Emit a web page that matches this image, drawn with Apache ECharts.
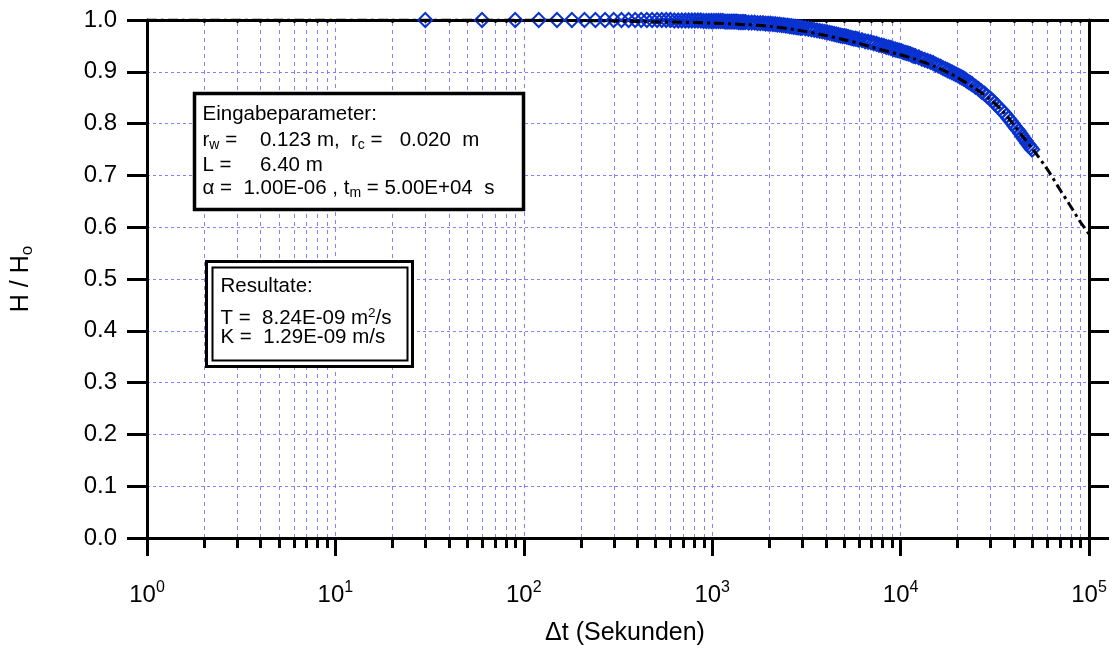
<!DOCTYPE html>
<html><head><meta charset="utf-8">
<script src="https://cdn.jsdelivr.net/npm/echarts@6/dist/echarts.min.js"></script>
<style>html,body{margin:0;padding:0;background:#fff}#c{width:1115px;height:652px}</style>
</head><body><div id="c"></div>
<script>
// ---------- data ----------
const xTickExponents = ['0', '1', '2', '3', '4', '5'];
const yTickLabels = ['0.0', '0.1', '0.2', '0.3', '0.4', '0.5', '0.6', '0.7', '0.8', '0.9', '1.0'];
const minorGridT = [2, 3, 4, 5, 6, 7, 8, 9,
  20, 30, 40, 50, 60, 70, 80, 90,
  200, 300, 400, 500, 600, 700, 800, 900,
  2000, 3000, 4000, 5000, 6000, 7000, 8000, 9000,
  20000, 30000, 40000, 50000, 60000, 70000, 80000, 90000];

// measured H/H0 (diamonds)
const measT = [30, 60, 90, 120, 150, 180, 210, 240, 270, 300, 330, 360, 390, 420, 450, 480, 510, 540, 570, 600,
  630, 660, 690, 720, 750, 780, 810, 840, 870, 900, 930, 960, 990,
  1020, 1050, 1080, 1110, 1140, 1170, 1200, 1230, 1260, 1290, 1320, 1350, 1380, 1410, 1440, 1470, 1500,
  1560, 1620, 1680, 1740, 1800, 1860, 1920, 1980, 2040, 2100, 2160, 2220, 2280, 2340, 2400, 2460, 2520, 2580, 2640, 2700, 2760, 2820, 2880, 2940, 3000,
  3120, 3240, 3360, 3480, 3600, 3720, 3840, 3960, 4080, 4200, 4320, 4440, 4560, 4680, 4800, 4920, 5040, 5160, 5280, 5400, 5520, 5640, 5760, 5880, 6000,
  6240, 6480, 6720, 6960, 7200, 7440, 7680, 7920, 8160, 8400, 8640, 8880, 9120, 9360, 9600, 9840, 10080, 10320, 10560, 10800, 11040, 11280, 11520, 11760, 12000,
  12480, 12960, 13440, 13920, 14400, 14880, 15360, 15840, 16320, 16800, 17280, 17760, 18240, 18720, 19200, 19680, 20160, 20640, 21120, 21600, 22080, 22560, 23040, 23520, 24000,
  24960, 25920, 26880, 27840, 28800, 29760, 30720, 31680, 32640, 33600, 34560, 35520, 36480, 37440, 38400, 39360, 40320, 41280, 42240, 43200, 44160, 45120, 46080, 47040, 48000, 48960, 49920];
const measH = [1.000, 1.000, 1.000, 1.000, 1.000, 1.000, 1.000, 1.000, 1.000, 1.000, 1.000, 1.000, 1.000, 1.000, 1.000, 1.000, 1.000, 1.000, 1.000, 1.000,
  0.999, 0.999, 0.999, 0.999, 0.999, 0.999, 0.999, 0.999, 0.999, 0.998, 0.998, 0.998, 0.998,
  0.998, 0.998, 0.998, 0.998, 0.998, 0.997, 0.997, 0.997, 0.997, 0.997, 0.997, 0.997, 0.996, 0.996, 0.996, 0.996, 0.996,
  0.995, 0.995, 0.995, 0.994, 0.994, 0.994, 0.993, 0.993, 0.993, 0.992, 0.992, 0.991, 0.991, 0.990, 0.990, 0.989, 0.989, 0.988, 0.988, 0.987, 0.987, 0.986, 0.986, 0.985, 0.985,
  0.984, 0.983, 0.982, 0.981, 0.980, 0.979, 0.978, 0.977, 0.976, 0.975, 0.974, 0.973, 0.972, 0.971, 0.970, 0.969, 0.969, 0.968, 0.967, 0.966, 0.965, 0.964, 0.964, 0.963, 0.962,
  0.961, 0.959, 0.958, 0.957, 0.955, 0.954, 0.952, 0.951, 0.950, 0.948, 0.947, 0.946, 0.944, 0.943, 0.942, 0.941, 0.940, 0.938, 0.937, 0.936, 0.935, 0.934, 0.932, 0.931, 0.930,
  0.928, 0.925, 0.923, 0.921, 0.919, 0.917, 0.914, 0.912, 0.910, 0.907, 0.905, 0.903, 0.901, 0.899, 0.897, 0.895, 0.893, 0.891, 0.889, 0.887, 0.885, 0.882, 0.880, 0.878, 0.876,
  0.871, 0.867, 0.862, 0.858, 0.853, 0.849, 0.844, 0.839, 0.834, 0.829, 0.825, 0.820, 0.815, 0.810, 0.805, 0.800, 0.795, 0.790, 0.786, 0.781, 0.776, 0.771, 0.767, 0.762, 0.758, 0.754, 0.750];

// fitted curve
const fitT = [1, 10, 100, 300, 600, 1000, 1500, 2000, 3000, 4000, 5000, 6000, 7000, 8000, 10000, 12000, 15000, 18000, 20000, 25000, 30000, 35000, 40000, 45000, 50000, 60000, 70000, 80000, 90000, 100000];
const fitH = [1.000, 1.000, 1.000, 0.998, 0.996, 0.994, 0.991, 0.988, 0.979, 0.970, 0.962, 0.955, 0.948, 0.942, 0.933, 0.924, 0.911, 0.898, 0.889, 0.867, 0.846, 0.823, 0.797, 0.773, 0.752, 0.712, 0.673, 0.640, 0.610, 0.587];

// ---------- chart ----------
const FF = '"Liberation Sans", Arial, sans-serif';
const GRID_COLOR = '#8282ff';
const DATA_COLOR = '#0a32d0';

const chart = echarts.init(document.getElementById('c'), null, {renderer: 'canvas'});

const BOX_FS = 20.5;
const boxRich = {
  m: {fontSize: BOX_FS, fontFamily: FF, lineHeight: 24, fill: '#000'},
  s: {fontSize: 14, fontFamily: FF, lineHeight: 17, verticalAlign: 'bottom', fill: '#000'},
  p: {fontSize: 13.5, fontFamily: FF, lineHeight: 4, verticalAlign: 'top', fill: '#000'}
};
function boxText(x, y, t) {
  return {type: 'text', x: x, y: y, z: 101,
    style: {text: t, rich: boxRich, fill: '#000', fontSize: BOX_FS, fontFamily: FF, align: 'left', verticalAlign: 'middle'}};
}

const option = {
  animation: false,
  backgroundColor: '#fff',
  grid: {left: 147, top: 20, width: 942, height: 518, containLabel: false, outerBoundsMode: 'none'},
  xAxis: [{
    type: 'log', logBase: 10, min: 1, max: 100000, position: 'bottom',
    name: 'Δt (Sekunden)', nameLocation: 'middle', nameGap: 83,
    nameTextStyle: {fontSize: 25, fontFamily: FF, color: '#000', padding: [0, 0, 0, 14]},
    axisLine: {show: true, onZero: false, lineStyle: {color: '#000', width: 3}},
    axisTick: {show: true, inside: false, length: 18, lineStyle: {color: '#000', width: 3}},
    minorTick: {show: false},
    axisLabel: {show: true, margin: 42, color: '#000',
      formatter: function (v) { return '{b|10}{s|' + xTickExponents[Math.round(Math.log10(v))] + '}'; },
      rich: {
        b: {fontSize: 24, fontFamily: FF, color: '#000', lineHeight: 30},
        s: {fontSize: 16, fontFamily: FF, color: '#000', lineHeight: 5, verticalAlign: 'top'}
      }},
    splitLine: {show: true, lineStyle: {color: GRID_COLOR, width: 1, type: [4, 4]}}
  }, {
    type: 'log', logBase: 10, min: 1, max: 100000, position: 'top', gridIndex: 0,
    axisLine: {show: true, onZero: false, lineStyle: {color: '#000', width: 3}},
    axisTick: {show: false}, axisLabel: {show: false}, splitLine: {show: false}
  }],
  yAxis: [{
    type: 'value', min: 0, max: 1, interval: 0.1, position: 'left',
    name: '{m|H / H}{s|o}', nameLocation: 'middle', nameGap: 111, nameRotate: 90,
    nameTextStyle: {color: '#000', fontFamily: FF, fontSize: 25,
      rich: {
        m: {fontSize: 25, fontFamily: FF, color: '#000', lineHeight: 30},
        s: {fontSize: 17, fontFamily: FF, color: '#000', lineHeight: 12, verticalAlign: 'bottom'}
      }},
    axisLine: {show: true, onZero: false, lineStyle: {color: '#000', width: 3}},
    axisTick: {show: true, inside: false, length: 20, lineStyle: {color: '#000', width: 3}},
    axisLabel: {show: true, margin: 30, fontSize: 24, fontFamily: FF, color: '#000',
      formatter: function (v) { return yTickLabels[Math.round(v * 10)]; }},
    splitLine: {show: true, lineStyle: {color: GRID_COLOR, width: 1, type: [3, 3]}}
  }, {
    type: 'value', min: 0, max: 1, interval: 0.1, position: 'right',
    axisLine: {show: true, onZero: false, lineStyle: {color: '#000', width: 3}},
    axisTick: {show: true, inside: false, length: 20, lineStyle: {color: '#000', width: 3}},
    axisLabel: {show: false}, splitLine: {show: false}
  }],
  series: [{
    type: 'custom', name: 'minor', xAxisIndex: 0, yAxisIndex: 0, z: 1, silent: true, clip: false,
    data: minorGridT.map(function (t) { return [t, 0]; }),
    encode: {x: 0, y: 1},
    renderItem: function (params, api) {
      const v = api.value(0);
      const top = api.coord([v, 1]);
      const bot = api.coord([v, 0]);
      const x = Math.round(top[0]) + 0.5;
      return {type: 'group', children: [
        {type: 'line', shape: {x1: x, y1: top[1] + 2, x2: x, y2: bot[1] - 1},
          style: {stroke: GRID_COLOR, lineWidth: 1, lineDash: [4, 4]}},
        {type: 'line', shape: {x1: x, y1: bot[1], x2: x, y2: bot[1] + 10},
          style: {stroke: '#000', lineWidth: 3}},
        {type: 'line', shape: {x1: x, y1: top[1], x2: x, y2: top[1] + 3},
          style: {stroke: '#000', lineWidth: 2}}
      ]};
    }
  }, {
    type: 'scatter', name: 'Messwerte', z: 3,
    symbol: 'diamond', symbolSize: 14,
    itemStyle: {color: 'rgba(0,0,0,0)', borderColor: DATA_COLOR, borderWidth: 2, opacity: 1},
    data: measT.map(function (t, i) { return [t, measH[i]]; })
  }, {
    type: 'line', name: 'Anpassung', z: 4, showSymbol: false, symbol: 'none', smooth: 0.3,
    lineStyle: {color: '#000', width: 3, type: [10, 4, 3, 4]},
    data: fitT.map(function (t, i) { return [t, fitH[i]]; })
  }],
  graphic: [
    {type: 'rect', z: 100, shape: {x: 194.5, y: 93.5, width: 329, height: 116},
      style: {fill: '#fff', stroke: '#000', lineWidth: 3.5}},
    boxText(202.5, 114, '{m|Eingabeparameter:}'),
    boxText(202.5, 140.5, '{m|r}{s|w}{m| =    0.123 m,  r}{s|c}{m| =   0.020  m}'),
    boxText(202.5, 165, '{m|L =     6.40 m}'),
    boxText(202.5, 188.5, '{m|α =  1.00E-06 , t}{s|m}{m| = 5.00E+04  s}'),
    {type: 'rect', z: 100, shape: {x: 206.5, y: 261.5, width: 206, height: 105},
      style: {fill: '#fff', stroke: '#000', lineWidth: 3}},
    {type: 'rect', z: 100, shape: {x: 212.5, y: 267.5, width: 195, height: 93},
      style: {fill: 'none', stroke: '#000', lineWidth: 2}},
    boxText(220.5, 286.5, '{m|Resultate:}'),
    boxText(220.5, 318.5, '{m|T =  8.24E-09 m}{p|2}{m|/s}'),
    boxText(220.5, 337.5, '{m|K =  1.29E-09 m/s}')
  ]
};
chart.setOption(option);
</script>
</body></html>
